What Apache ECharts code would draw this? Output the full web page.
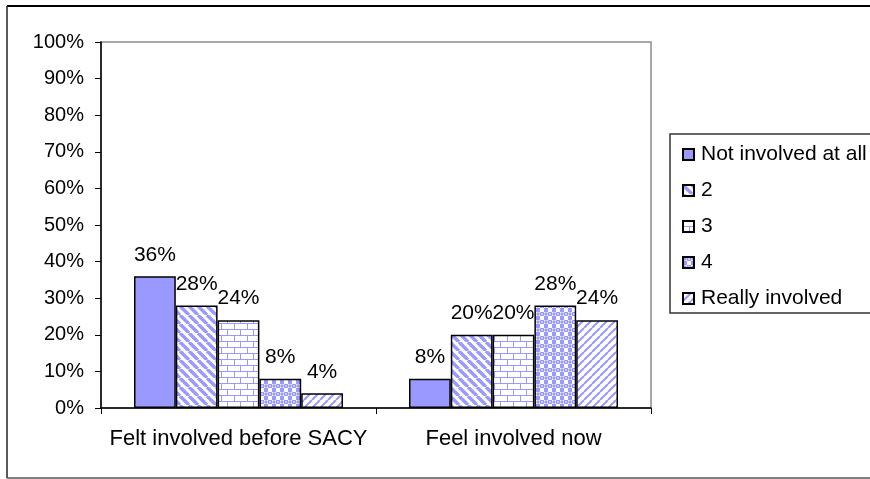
<!DOCTYPE html>
<html>
<head>
<meta charset="utf-8">
<script src="https://cdn.jsdelivr.net/npm/echarts@6/dist/echarts.min.js"></script>
<style>
  html, body { margin: 0; padding: 0; background: #fff; }
  #chart { width: 870px; height: 479px; }
</style>
</head>
<body>
<div id="chart"></div>
<script>
// Survey answers: how involved respondents felt, before SACY and now
const categories = ['Felt involved before SACY', 'Feel involved now'];
const seriesNames = ['Not involved at all', '2', '3', '4', 'Really involved'];
const notInvolved = [36, 8];
const level2 = [28, 20];
const level3 = [24, 20];
const level4 = [8, 28];
const reallyInvolved = [4, 24];
const yTicks = [0, 10, 20, 30, 40, 50, 60, 70, 80, 90, 100];

const BLUE = '#9999FF';
const FONT = '"Liberation Sans", Arial, sans-serif';

function tile(w, h, draw) {
  const c = document.createElement('canvas');
  c.width = w; c.height = h;
  const ctx = c.getContext('2d');
  ctx.fillStyle = '#fff';
  ctx.fillRect(0, 0, w, h);
  ctx.fillStyle = BLUE;
  ctx.strokeStyle = BLUE;
  draw(ctx);
  return { image: c, repeat: 'repeat' };
}

// wide downward diagonal stripes
const patDown = tile(9, 9, ctx => {
  ctx.lineWidth = 3.4;
  for (let k = -9; k <= 18; k += 9) {
    ctx.beginPath(); ctx.moveTo(k, 0); ctx.lineTo(k + 9, 9); ctx.stroke();
  }
});
// brick wall
const patBrick = tile(13, 12, ctx => {
  ctx.fillRect(0, 5, 13, 1);
  ctx.fillRect(0, 11, 13, 1);
  ctx.fillRect(0, 0, 1, 5);
  ctx.fillRect(6, 6, 1, 5);
});
// checker with round dots
const patDots = tile(8, 8, ctx => {
  ctx.fillRect(4, 0, 4, 4);
  ctx.fillRect(0, 4, 4, 4);
  ctx.beginPath(); ctx.arc(2, 2, 1.7, 0, Math.PI * 2); ctx.fill();
  ctx.fillStyle = '#fff';
  ctx.beginPath(); ctx.arc(6, 6, 1.6, 0, Math.PI * 2); ctx.fill();
  ctx.fillStyle = '#ccccff';
  ctx.fillRect(5, 1, 2, 2);
});
// thinner upward diagonal stripes
const patUp = tile(8, 8, ctx => {
  ctx.lineWidth = 2;
  for (let k = -8; k <= 16; k += 8) {
    ctx.beginPath(); ctx.moveTo(k, 8); ctx.lineTo(k + 8, 0); ctx.stroke();
  }
});

const values = [notInvolved, level2, level3, level4, reallyInvolved];
const fills = [BLUE, patDown, patBrick, patDots, patUp];

const chart = echarts.init(document.getElementById('chart'), null, { renderer: 'canvas' });

chart.setOption({
  animation: false,
  backgroundColor: '#fff',
  textStyle: { fontFamily: FONT, color: '#000' },
  grid: {
    left: 101, right: 219, top: 42, bottom: 71,
    show: true, borderColor: '#8c8c8c', borderWidth: 1.5,
    backgroundColor: 'transparent'
  },
  legend: {
    orient: 'vertical',
    left: 677, top: 139,
    itemWidth: 11, itemHeight: 11,
    itemGap: 15,
    icon: 'rect',
    data: seriesNames,
    textStyle: { fontFamily: FONT, fontSize: 21, color: '#000', padding: [0, 0, 0, 2] }
  },
  xAxis: {
    type: 'category',
    data: categories,
    axisLine: { lineStyle: { color: '#000', width: 1.5 } },
    axisTick: { show: true, length: 6, lineStyle: { color: '#000' } },
    axisLabel: { interval: 0, fontFamily: FONT, fontSize: 22, color: '#000', margin: 20 }
  },
  yAxis: {
    type: 'value',
    min: 0, max: 100, interval: 10,
    axisLine: { show: true, lineStyle: { color: '#000', width: 1.5 } },
    axisTick: { show: true, length: 6, lineStyle: { color: '#000' } },
    splitLine: { show: false },
    axisLabel: {
      fontFamily: FONT, fontSize: 20, color: '#000', margin: 17,
      formatter: v => (yTicks.includes(v) ? v + '%' : '')
    }
  },
  graphic: [
    // chart frame
    { type: 'line', shape: { x1: 7, y1: 6, x2: 870, y2: 6 }, style: { stroke: '#000', lineWidth: 2 } },
    { type: 'line', shape: { x1: 7, y1: 6, x2: 7, y2: 478 }, style: { stroke: '#222', lineWidth: 1.5 } },
    { type: 'line', shape: { x1: 7, y1: 478, x2: 870, y2: 478 }, style: { stroke: '#555', lineWidth: 1.5 } },
    // legend frame
    { type: 'rect', shape: { x: 670, y: 134, width: 220, height: 179 },
      style: { fill: 'none', stroke: '#333', lineWidth: 1.5 } }
  ],
  series: seriesNames.map((name, i) => ({
    name,
    type: 'bar',
    data: values[i],
    barGap: '0%',
    barCategoryGap: '24%',
    itemStyle: { color: fills[i], borderColor: '#000', borderWidth: 1.5 },
    label: {
      show: true, position: 'top', distance: 11,
      fontFamily: FONT, fontSize: 21, color: '#000',
      formatter: p => p.value + '%'
    }
  }))
});
</script>
</body>
</html>
